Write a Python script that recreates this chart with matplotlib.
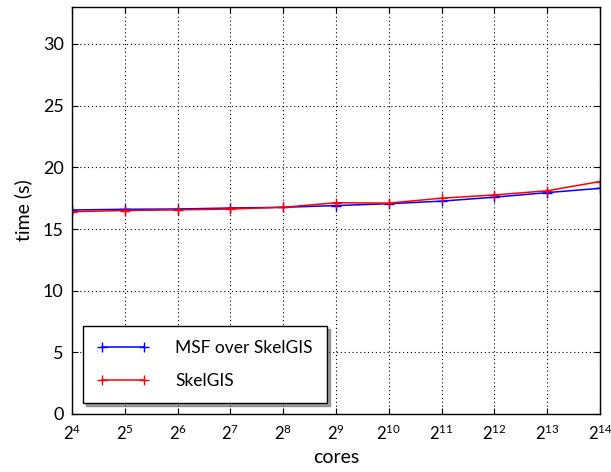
import matplotlib
matplotlib.use("Agg")
import matplotlib.pyplot as plt

plt.rcParams['font.family'] = ['Lato', 'DejaVu Sans']
plt.rcParams['mathtext.fontset'] = 'custom'
plt.rcParams['mathtext.rm'] = 'Lato'
plt.rcParams['mathtext.default'] = 'regular'

exponents = [4, 5, 6, 7, 8, 9, 10, 11, 12, 13, 14]
msf = [16.54, 16.6, 16.62, 16.7, 16.76, 16.9, 17.05, 17.26, 17.58, 17.95, 18.3]
skelgis = [16.4, 16.5, 16.55, 16.62, 16.76, 17.13, 17.1, 17.5, 17.76, 18.1, 18.85]
yticks = [0, 5, 10, 15, 20, 25, 30]

fig = plt.figure(figsize=(6.11, 4.72), dpi=100)
ax = fig.add_axes([72/611, 1 - 414/472, (600-72)/611, (414-7)/472])

ax.plot(exponents, msf, color='blue', marker='+', markersize=7, linewidth=1.1, label='MSF over SkelGIS')
ax.plot(exponents, skelgis, color='red', marker='+', markersize=7, linewidth=1.1, label='SkelGIS')

ax.set_xlim(4, 14)
ax.set_ylim(0, 33)
ax.set_xticks(exponents)
ax.set_xticklabels([f'$2^{{{e}}}$' for e in exponents])
ax.set_yticks(yticks)
ax.tick_params(direction='in', top=True, right=True, labelsize=13, length=4, pad=6)
ax.tick_params(axis='x', labelsize=12, pad=7)
ax.grid(True, linestyle=(0, (1, 2.5)), color='black', linewidth=0.8)
for s in ax.spines.values():
    s.set_linewidth(1.0)

ax.set_xlabel('cores', fontsize=14, labelpad=4)
ax.set_ylabel('time (s)', fontsize=14, labelpad=8)

leg = ax.legend(loc='lower left', bbox_to_anchor=(0.005, 0.005), fontsize=12.5, shadow=True,
                fancybox=False, framealpha=1, edgecolor='black', borderpad=0.8,
                labelspacing=1.0, handlelength=3, handletextpad=1.5, numpoints=2)
leg.get_frame().set_linewidth(1.0)

fig.savefig('out.png', dpi=100)
